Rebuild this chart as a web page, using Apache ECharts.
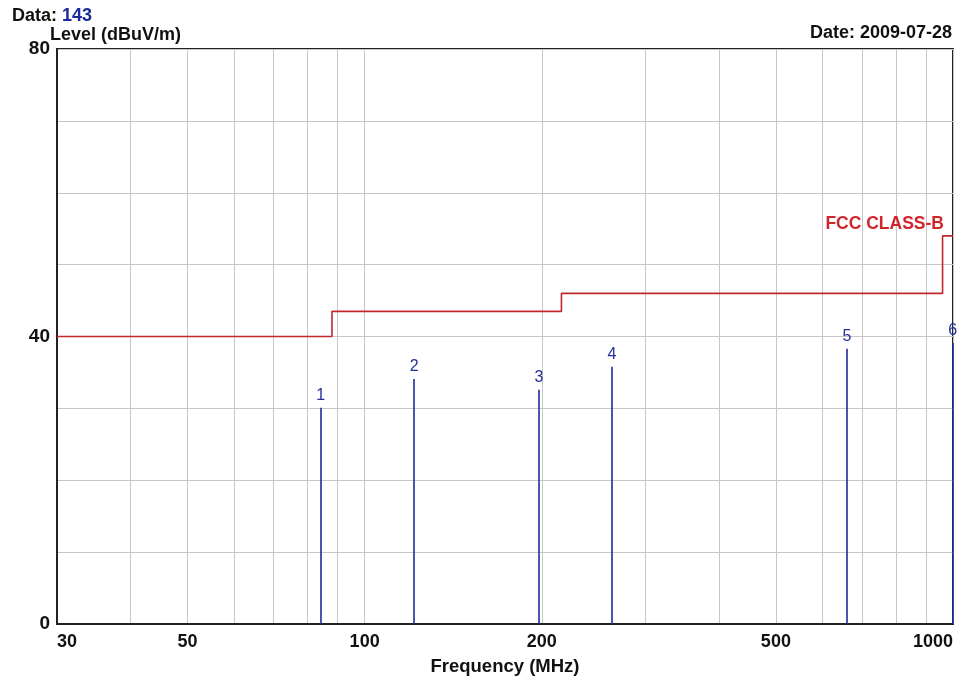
<!DOCTYPE html>
<html><head><meta charset="utf-8">
<script src="https://cdn.jsdelivr.net/npm/echarts@6/dist/echarts.min.js"></script>
<style>html,body{margin:0;padding:0;background:#fff}#c{width:968px;height:681px}</style>
</head><body><div id="c"></div>
<script>
// Data
const limitFreq = [30, 88, 88, 216, 216, 960, 960, 1000];
const limitLevel = [40, 40, 43.5, 43.5, 46, 46, 54, 54];
const markerIds = ['1', '2', '3', '4', '5', '6'];
const markerFreq = [84.2, 121.4, 197.9, 263.3, 660, 999];
const markerLevel = [30.1, 34.1, 32.6, 35.8, 38.3, 39.1];
const xTickValues = [30, 40, 50, 60, 70, 80, 90, 100, 200, 300, 400, 500, 600, 700, 800, 900, 1000];
const xLabelValues = [30, 50, 100, 200, 500, 1000];
const yLabelValues = [0, 40, 80];

const FONT = 'Arial, "Liberation Sans", sans-serif';
const chart = echarts.init(document.getElementById('c'));
chart.setOption({
  animation: false,
  backgroundColor: '#fff',
  title: [
    { text: '{a|Data: }{b|143}', left: 12, top: 7, padding: 0,
      textStyle: { rich: {
        a: { fontFamily: FONT, fontWeight: 'bold', fontSize: 18, color: '#111' },
        b: { fontFamily: FONT, fontWeight: 'bold', fontSize: 18, color: '#1a2a9a' } } } },
    { text: 'Level (dBuV/m)', left: 50, top: 26, padding: 0,
      textStyle: { fontFamily: FONT, fontWeight: 'bold', fontSize: 18, color: '#111' } },
    { text: 'Date: 2009-07-28', right: 16, top: 24, padding: 0,
      textStyle: { fontFamily: FONT, fontWeight: 'bold', fontSize: 18, color: '#111' } },
    { text: 'FCC CLASS-B', right: 24, top: 215, padding: 0,
      textStyle: { fontFamily: FONT, fontWeight: 'bold', fontSize: 17.5, color: '#d0252a' } }
  ],
  grid: { left: 57, right: 15, top: 49, bottom: 54, show: true, borderColor: '#222', borderWidth: 2, containLabel: false },
  xAxis: {
    type: 'log', logBase: 10, min: 30, max: 1000,
    name: 'Frequency (MHz)', nameLocation: 'middle', nameGap: 33,
    nameTextStyle: { fontFamily: FONT, fontWeight: 'bold', fontSize: 18.5, color: '#111' },
    axisLine: { show: true, lineStyle: { color: '#222', width: 2 } },
    axisTick: { show: false, customValues: xTickValues },
    axisLabel: { customValues: xLabelValues, formatter: v => String(Math.round(v)),
      alignMinLabel: 'left', alignMaxLabel: 'right',
      fontFamily: FONT, fontWeight: 'bold', fontSize: 18, color: '#111', margin: 9 },
    splitLine: { show: true, lineStyle: { color: '#c6c6c6', width: 1 } }
  },
  yAxis: {
    type: 'value', min: 0, max: 80, interval: 10,
    axisLine: { show: true, lineStyle: { color: '#222', width: 2 } },
    axisTick: { show: false },
    axisLabel: { customValues: yLabelValues, fontFamily: FONT, fontWeight: 'bold', fontSize: 19, color: '#111', margin: 7 },
    splitLine: { show: true, lineStyle: { color: '#c6c6c6', width: 1 } }
  },
  series: [
    {
      type: 'line', name: 'limit', symbol: 'none',
      data: limitFreq.map((f, i) => [f, limitLevel[i]]),
      lineStyle: { color: '#c0282c', width: 1.6 }, z: 3
    },
    {
      type: 'scatter', name: 'markers', symbolSize: 0, data: [],
      markLine: {
        silent: true, symbol: ['none', 'none'], animation: false,
        lineStyle: { color: '#1f2a9c', width: 1.6, type: 'solid' },
        label: { show: true, position: 'end', distance: 4, fontFamily: FONT, fontSize: 16, color: '#22309e', formatter: p => p.name },
        data: markerFreq.map((f, i) => [
          { name: markerIds[i], coord: [f, 0] },
          { coord: [f, markerLevel[i]] }
        ])
      }
    }
  ]
});
</script></body></html>
